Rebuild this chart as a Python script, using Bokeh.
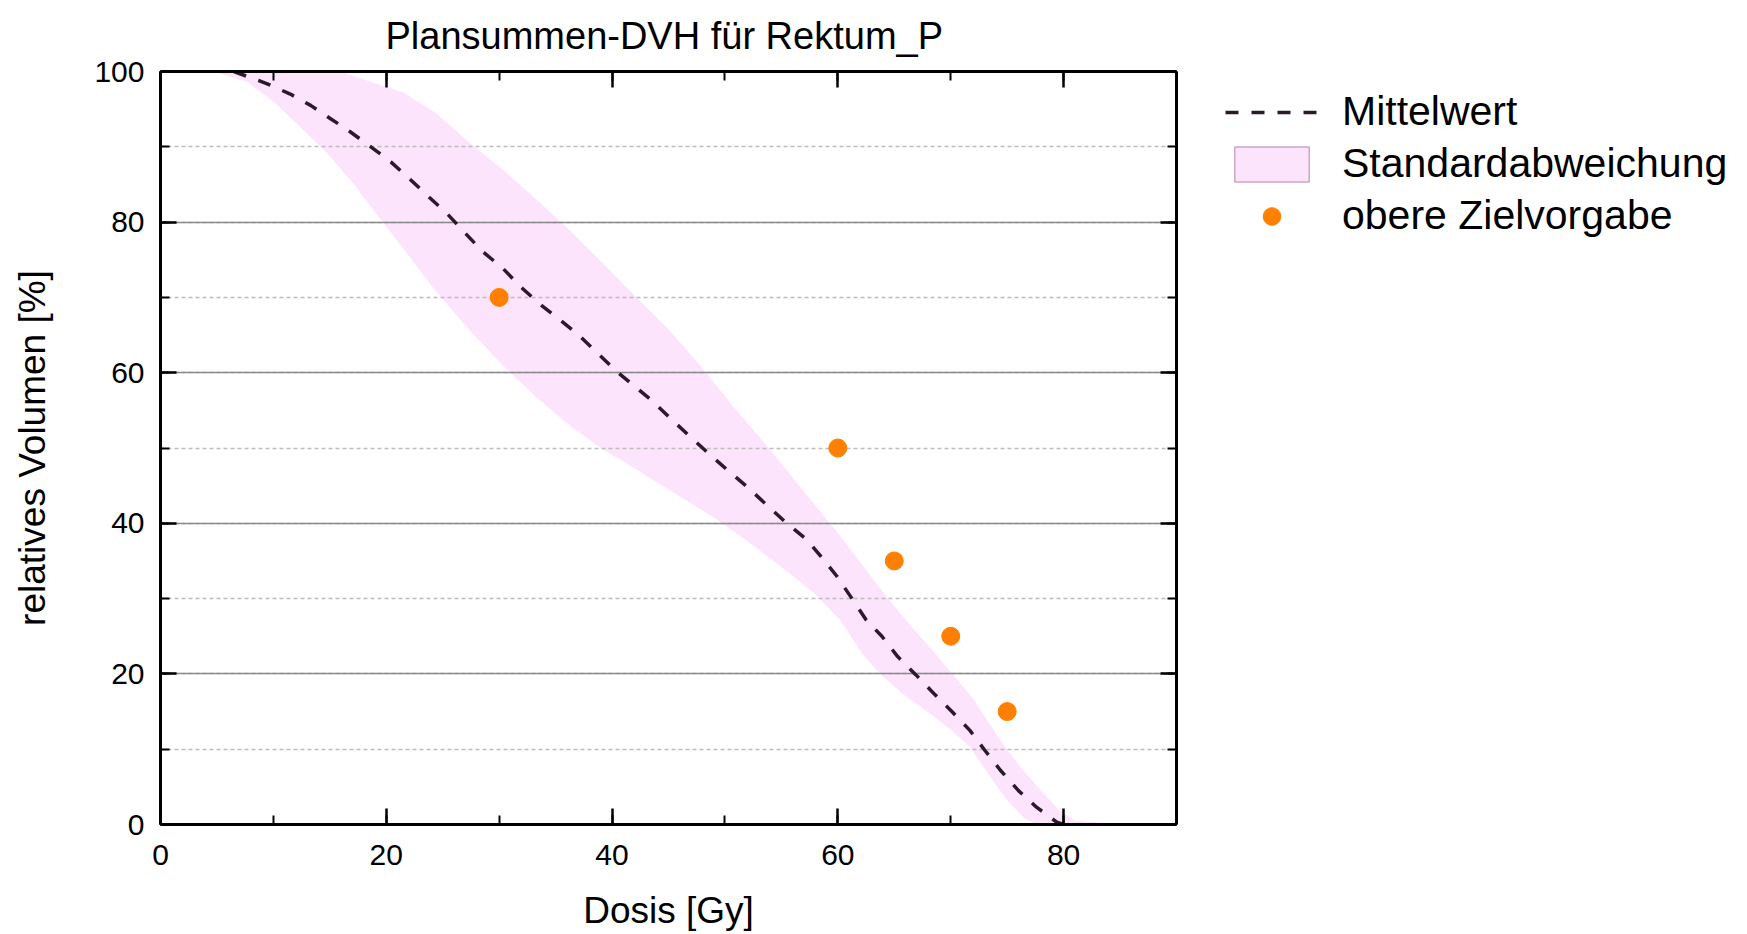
from bokeh.plotting import figure
from bokeh.layouts import row
from bokeh.models import (Legend, LegendItem, LinearAxis, SingleIntervalTicker,
                          Range1d, Grid)
from bokeh.embed import file_html
from bokeh.resources import INLINE

# Mean DVH of the rectum (dose in Gy, relative volume in %)
mean_dose = [6.5, 9.4, 11.5, 13.3, 15.1, 16.8, 18.9, 20.4, 22.1, 23.8, 25.4, 27.2,
             28.6, 30.3, 31.9, 33.7, 36.9, 40.3, 43.6, 45.2, 47.0, 48.6, 50.2, 52.0,
             53.8, 55.4, 57.2, 58.5, 59.9, 61.3, 62.5, 63.9, 65.3, 66.9, 68.5, 70.1,
             71.7, 73.0, 74.4, 76.0, 77.6, 79.4, 80.0]
mean_vol = [100, 98.4, 97.0, 95.5, 93.7, 92.0, 89.7, 88.0, 85.7, 83.3, 81.1, 78.2,
            76.0, 73.9, 71.4, 69.0, 65.2, 60.3, 56.2, 53.9, 51.4, 49.2, 47.1, 44.8,
            42.3, 40.1, 37.9, 35.6, 33.0, 29.9, 27.2, 25.0, 22.3, 19.9, 17.4, 15.0,
            12.5, 9.9, 7.2, 4.5, 2.3, 0.3, 0.0]

# Upper edge of the standard deviation band
upper_dose = [4.7, 10.0, 15.0, 16.5, 18.5, 21.5, 24.4, 27.4, 30.3, 33.3, 36.2, 39.2,
              42.1, 45.1, 48.0, 50.8, 53.7, 56.7, 59.4, 60.9, 62.9, 64.5, 66.5, 68.1,
              70.1, 72.1, 73.2, 74.8, 76.4, 78.0, 79.6, 81.0, 84.0, 87.5]
upper_vol = [100, 100, 100, 99.7, 98.7, 97.2, 94.5, 90.5, 87.0, 83.0, 79.0, 74.5,
             70.1, 65.6, 60.6, 55.4, 50.3, 44.8, 39.8, 37.0, 33.0, 29.9, 26.3, 23.6,
             20.1, 16.5, 13.9, 10.3, 7.2, 4.5, 1.9, 0.5, 0.2, 0.0]

# Lower edge of the standard deviation band
lower_dose = [4.7, 7.7, 10.0, 12.4, 14.8, 17.1, 18.5, 21.5, 24.4, 27.4, 30.3, 33.1,
              36.0, 39.0, 42.0, 45.0, 49.0, 52.0, 55.0, 58.0, 60.3, 62.1, 63.7, 65.7,
              68.1, 70.1, 71.7, 73.3, 74.8, 76.4, 77.6, 87.5]
lower_vol = [100, 98.6, 96.0, 92.6, 89.1, 85.1, 82.3, 76.5, 70.8, 65.6, 61.0, 57.0,
             53.3, 50.0, 47.3, 44.5, 40.8, 37.6, 34.2, 30.6, 27.0, 22.8, 20.1, 17.4,
             14.8, 12.5, 10.3, 6.8, 3.6, 1.0, 0.0, 0.0]

# Upper planning objectives
target_dose = [30, 60, 65, 70, 75]
target_vol = [70, 50, 35, 25, 15]

title_text = "Plansummen-DVH für Rektum_P"
x_label = "Dosis [Gy]"
y_label = "relatives Volumen [%]"
legend_labels = ["Mittelwert", "Standardabweichung", "obere Zielvorgabe"]

FONT = "Liberation Sans"
PINK = "#fce4fc"
ORANGE = "#ff8000"
LINE = "#2a1a2a"

p = figure(width=1186, height=934, output_backend="svg", toolbar_location=None,
           x_range=Range1d(0, 90), y_range=Range1d(0, 100),
           x_axis_type=None, y_axis_type=None,
           min_border_left=160, min_border_right=10,
           min_border_top=71, min_border_bottom=110)
p.outline_line_color = None
p.background_fill_color = "white"
p.border_fill_color = "white"

p.title.text = title_text
p.title.text_font = FONT
p.title.text_font_size = "38px"
p.title.text_font_style = "normal"
p.title.align = "left"
p.title.offset = 225
p.title.vertical_align = "top"
p.title.text_color = "black"
p.title.standoff = 25

xticker = SingleIntervalTicker(interval=20, num_minor_ticks=2)
yticker = SingleIntervalTicker(interval=20, num_minor_ticks=2)


def frame_axis(ticker, labelled, label=None):
    ax = LinearAxis(ticker=ticker)
    ax.axis_line_width = 3
    ax.axis_line_color = "black"
    ax.major_tick_in = 16
    ax.major_tick_out = 0
    ax.minor_tick_in = 9
    ax.minor_tick_out = 0
    ax.major_tick_line_width = 2.5
    ax.minor_tick_line_width = 2
    ax.major_tick_line_color = "black"
    ax.minor_tick_line_color = "black"
    if labelled:
        ax.major_label_text_font = FONT
        ax.major_label_text_font_size = "30px"
        ax.major_label_text_color = "black"
        ax.major_label_standoff = 16
        ax.axis_label = label
        ax.axis_label_text_font = FONT
        ax.axis_label_text_font_size = "37px"
        ax.axis_label_text_font_style = "normal"
        ax.axis_label_text_color = "black"
    else:
        # mirrored frame side: ticks only
        ax.major_label_text_color = None
        ax.major_label_text_font_size = "1px"
        ax.major_label_standoff = 0
    return ax


xaxis = frame_axis(xticker, True, x_label)
xaxis.major_label_standoff = 20
xaxis.axis_label_standoff = 22
yaxis = frame_axis(yticker, True, y_label)
yaxis.axis_label_standoff = 38
p.add_layout(xaxis, "below")
p.add_layout(yaxis, "left")
p.add_layout(frame_axis(xticker, False), "above")
p.add_layout(frame_axis(yticker, False), "right")

grid = Grid(dimension=1, ticker=yticker,
            grid_line_color="#8a8a8a", grid_line_width=1.5,
            minor_grid_line_color="#bdbdbd", minor_grid_line_width=1.5,
            minor_grid_line_dash="4 3")
p.add_layout(grid)

# Standard deviation band: upper edge forward, lower edge back
band_x = upper_dose + lower_dose[::-1]
band_y = upper_vol + lower_vol[::-1]
p.patch(band_x, band_y, fill_color=PINK, line_color=None, level="image")

mean_style = dict(line_color=LINE, line_width=3.5, line_dash="13 13")
band_style = dict(fill_color=PINK, line_color="#c8a8c8", line_width=1.5)
target_style = dict(size=18, marker="circle", fill_color=ORANGE, line_color=ORANGE)

p.line(mean_dose, mean_vol, **mean_style)
p.scatter(target_dose, target_vol, **target_style)

# Legend panel to the right of the chart; its keys sit outside the panel's range
lp = figure(width=561, height=934, output_backend="svg", toolbar_location=None,
            x_range=Range1d(0, 1), y_range=Range1d(0, 1),
            x_axis_type=None, y_axis_type=None,
            min_border_left=0, min_border_right=0, min_border_top=0, min_border_bottom=0)
lp.outline_line_color = None
lp.grid.visible = False
key_mean = lp.line([5, 6], [5, 6], **mean_style)
key_band = lp.patch([5, 6, 6], [5, 5, 6], **band_style)
key_target = lp.scatter([5], [5], **target_style)

legend = Legend(items=[LegendItem(label=legend_labels[0], renderers=[key_mean]),
                       LegendItem(label=legend_labels[1], renderers=[key_band]),
                       LegendItem(label=legend_labels[2], renderers=[key_target])],
                location=(39, 585))
legend.label_text_font = FONT
legend.label_text_font_size = "41px"
legend.label_text_color = "black"
legend.glyph_width = 93
legend.glyph_height = 44
legend.label_standoff = 24
legend.spacing = 5
legend.padding = 0
legend.margin = 0
legend.border_line_color = None
legend.background_fill_alpha = 0
lp.add_layout(legend)

open("out.html", "w").write(file_html(row(p, lp), INLINE))
